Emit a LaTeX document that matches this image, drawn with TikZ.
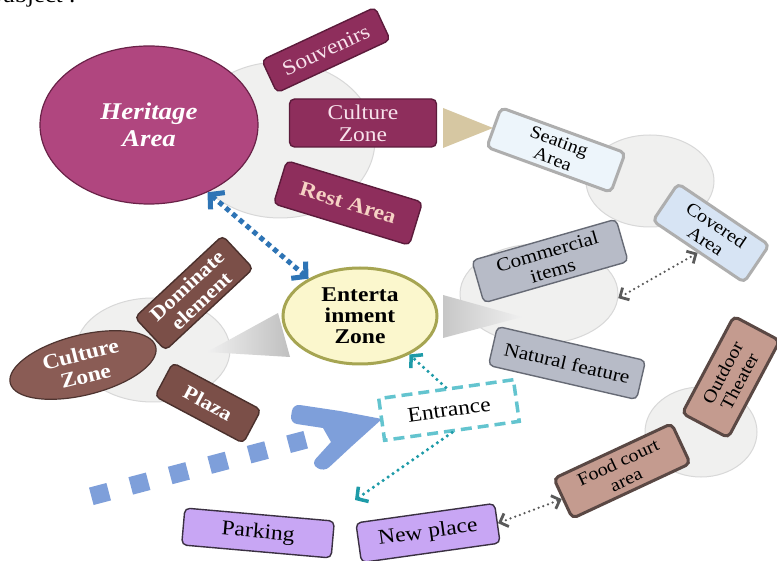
\documentclass[tikz,border=0pt]{standalone}
\usepackage{fontspec}
\setmainfont[FakeStretch=1.12]{Liberation Serif}
\usetikzlibrary{shapes.geometric,arrows.meta}
\definecolor{bgfill}{HTML}{F0F0EF}
\definecolor{bgline}{HTML}{D8D8D8}
\definecolor{herfill}{HTML}{B0467F}
\definecolor{herline}{HTML}{6A2248}
\definecolor{marfill}{HTML}{8E2E5C}
\definecolor{marline}{HTML}{5C1B3B}
\definecolor{martext}{HTML}{F8E2EC}
\definecolor{resttext}{HTML}{F6D2C4}
\definecolor{seatfill}{HTML}{EDF5FB}
\definecolor{covfill}{HTML}{D7E4F4}
\definecolor{boxgray}{HTML}{AEAEAE}
\definecolor{comfill}{HTML}{B7BBC7}
\definecolor{comline}{HTML}{666A75}
\definecolor{entfill}{HTML}{FBF7CD}
\definecolor{entline}{HTML}{A6A552}
\definecolor{czfill}{HTML}{8A5C55}
\definecolor{czline}{HTML}{4E3430}
\definecolor{brfill}{HTML}{7B4F48}
\definecolor{brline}{HTML}{4A302C}
\definecolor{rosefill}{HTML}{C49B8F}
\definecolor{roseline}{HTML}{5A4844}
\definecolor{lavfill}{HTML}{C8A6F4}
\definecolor{lavline}{HTML}{3A3042}
\definecolor{bigblue}{HTML}{7E9FDA}
\definecolor{dotblue}{HTML}{2E74B5}
\definecolor{tealc}{HTML}{1E9BA8}
\definecolor{entrc}{HTML}{63C4CF}
\definecolor{dgray}{HTML}{5A5A5A}
\definecolor{tan}{HTML}{D6C7A2}
\begin{document}
\begin{tikzpicture}[x=1pt,y=1pt,
  bgell/.style={ellipse, draw=bgline, fill=bgfill, line width=1, inner sep=0},
  rbox/.style={rectangle, rounded corners=5, align=center, inner sep=0, line width=1.4},
  txt/.style={font=\fontsize{19}{20}\selectfont},
  stxt/.style={font=\fontsize{18}{19}\selectfont},
  btxt/.style={font=\bfseries\fontsize{20}{21}\selectfont},
  mbox/.style={rbox, fill=marfill, draw=marline, text=martext, font=\fontsize{21}{22}\selectfont},
  sbox/.style={rbox, draw=boxgray, line width=3, stxt},
  cbox/.style={rbox, fill=comfill, draw=comline, txt},
  brbox/.style={rbox, fill=brfill, draw=brline, text=white, btxt},
  rosebox/.style={rbox, fill=rosefill, draw=roseline, line width=3, stxt},
  lavbox/.style={rbox, fill=lavfill, draw=lavline, font=\fontsize{21}{22}\selectfont},
  bluearr/.style={draw=dotblue, line width=5, dash pattern=on 5pt off 4pt,
    {Straight Barb[length=10pt,width=22pt,line width=5pt]}-{Straight Barb[length=10pt,width=22pt,line width=5pt]}},
  tealarr/.style={draw=tealc, line width=3.5, line cap=round, dash pattern=on 0pt off 6pt,
    -{Straight Barb[length=8pt,width=18pt,line width=3.5pt]}},
  grayarr/.style={draw=dgray, line width=2.5, line cap=round, dash pattern=on 0pt off 5pt,
    {Straight Barb[length=7pt,width=14pt,line width=2.8pt]}-{Straight Barb[length=7pt,width=14pt,line width=2.8pt]}}
]
\useasboundingbox (0,0) rectangle (777,-561);
\fill[white] (0,0) rectangle (777,-561);
\node[anchor=base east, inner sep=0, font=\fontsize{22}{22}\selectfont] (subj) at (76,-3) {Subject :};

% background ellipses
\node[bgell, minimum width=190, minimum height=156] (bgA) at (280,-140) {};
\node[bgell, minimum width=128, minimum height=92] (bgB) at (650,-181) {};
\node[bgell, minimum width=158, minimum height=100] (bgC) at (539,-294) {};
\node[bgell, minimum width=154, minimum height=104] (bgD) at (153,-350) {};
\node[bgell, minimum width=112, minimum height=90] (bgE) at (701,-432) {};

% triangles
\fill[tan] (443,-108) -- (443,-148) -- (493,-128) -- cycle;
\shade[left color=black!22, right color=black!6] (443,-295) -- (443,-338) -- (522,-317) -- cycle;
\shade[left color=black!6, right color=black!25] (207,-352) -- (278,-313) -- (290,-357) -- cycle;

% Heritage
\node[ellipse, draw=herline, fill=herfill, line width=1.2, minimum width=218, minimum height=158,
  inner sep=0, text=white, align=center, font=\bfseries\itshape\fontsize{24}{27}\selectfont] (her) at (149,-125) {Heritage\\Area};

\node[mbox, minimum width=125, minimum height=36, rotate=25] (souv) at (326,-50) {Souvenirs};
\node[mbox, minimum width=147, minimum height=48, font=\fontsize{21}{22}\selectfont] (cz1) at (363,-123) {Culture\\Zone};
\node[mbox, minimum width=142, minimum height=45, rotate=-17, text=resttext, font=\bfseries\fontsize{21}{22}\selectfont] (rest) at (348,-203) {Rest Area};

\node[sbox, fill=seatfill, minimum width=132, minimum height=42, rotate=-20] (seat) at (556,-150) {Seating\\Area};
\node[sbox, fill=covfill, minimum width=110, minimum height=45, rotate=-34] (cov) at (711,-233) {Covered\\Area};

\node[cbox, minimum width=150, minimum height=44, rotate=16] (com) at (550,-261) {Commercial\\items};
\node[cbox, minimum width=152, minimum height=40, rotate=-13] (nat) at (567,-363) {Natural feature};

% Entertainment
\node[ellipse, draw=entline, fill=entfill, line width=3, minimum width=154, minimum height=96,
  inner sep=0, align=center, font=\bfseries\fontsize{21}{21}\selectfont] (ent) at (360,-316) {Enterta\\inment\\Zone};

% left culture cluster
\node[ellipse, draw=czline, fill=czfill, line width=1.2, minimum width=150, minimum height=60, rotate=14,
  inner sep=0, text=white, align=center, font=\bfseries\fontsize{21}{22}\selectfont] (cz2) at (83,-365) {Culture\\Zone};
\node[brbox, minimum width=120, minimum height=45, rotate=43] (dom) at (194,-293) {Dominate\\element};
\node[brbox, minimum width=100, minimum height=38, rotate=-28] (plaza) at (208,-403) {Plaza};

% big arrow
\draw[bigblue, line width=18, dash pattern=on 18pt off 22.8pt] (91.3,-496.3) -- (305.7,-439.7);
\fill[bigblue] (340,-411) -- (382,-419) -- (352,-446)
   [rounded corners=7] -- (324,-472) -- (311,-464) [sharp corners] -- (331,-442) -- (323,-428)
   [rounded corners=7] -- (290,-423) -- (293,-404) [sharp corners] -- cycle;

% Entrance
\node[rectangle, draw=entrc, fill=white, line width=3.5, dash pattern=on 11pt off 6pt, minimum width=136,
  minimum height=42, rotate=8, font=\fontsize{21}{22}\selectfont] (entr) at (449,-410) {Entrance};

% right lower cluster
\node[rosebox, minimum width=110, minimum height=52, rotate=62] (out) at (731,-377) {Outdoor\\Theater};
\node[rosebox, minimum width=130, minimum height=44, rotate=25] (fc) at (622,-471) {Food court\\area};

\node[lavbox, minimum width=150, minimum height=37, rotate=-5] (park) at (258,-533) {Parking};
\node[lavbox, minimum width=140, minimum height=40, rotate=8] (np) at (428,-533) {New place};

\coordinate (tealend) at (355,-500);

% connectors
\draw[bluearr] (her.-49) -- (ent.144);
\draw[tealarr] (entr.north) -- (ent.-38);
\draw[tealarr] (entr.south) -- (tealend);
\draw[grayarr] (bgC.-3) -- (cov.south);
\draw[grayarr] (np.east) -- (fc.west);
\end{tikzpicture}
\end{document}
